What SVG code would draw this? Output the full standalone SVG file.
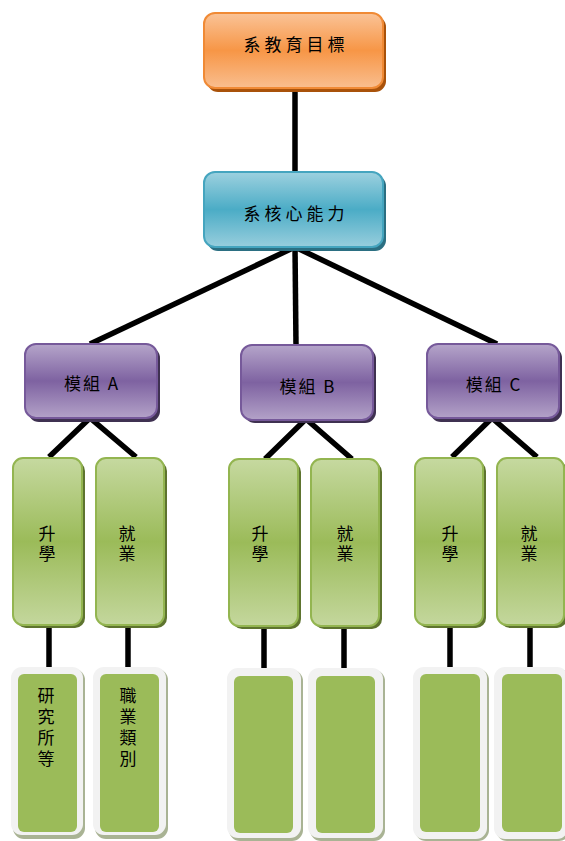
<svg xmlns="http://www.w3.org/2000/svg" width="565" height="841" viewBox="0 0 565 841">
<defs>
<linearGradient id="gO" x1="0" y1="0" x2="0" y2="1"><stop offset="0" stop-color="#FAC397"/><stop offset="0.5" stop-color="#F79646"/><stop offset="1" stop-color="#F9BE8F"/></linearGradient>
<linearGradient id="gB" x1="0" y1="0" x2="0" y2="1"><stop offset="0" stop-color="#9DD1DF"/><stop offset="0.5" stop-color="#4BACC6"/><stop offset="1" stop-color="#98CEDD"/></linearGradient>
<linearGradient id="gP" x1="0" y1="0" x2="0" y2="1"><stop offset="0" stop-color="#B5A5CA"/><stop offset="0.5" stop-color="#7E62A1"/><stop offset="1" stop-color="#B3A2C8"/></linearGradient>
<linearGradient id="gG" x1="0" y1="0" x2="0" y2="1"><stop offset="0" stop-color="#C6D9A0"/><stop offset="0.5" stop-color="#9BBB59"/><stop offset="1" stop-color="#C4D79D"/></linearGradient>
</defs>
<style>
.t{font-family:"Noto Sans CJK TC","Liberation Serif",serif;font-size:17px;fill:#000;text-anchor:middle;dominant-baseline:central}
.h{letter-spacing:4px}
.m{letter-spacing:2px}
.v{writing-mode:vertical-rl;text-orientation:upright;letter-spacing:3px;dominant-baseline:auto}
.c{stroke:#000;stroke-width:5.5;fill:none;stroke-linecap:butt}
.so{fill:#A9520A}
.sb{fill:#2B6F82}
.sp{fill:#3F3151}
.sg{fill:#5E742F}
.sw{fill:#A9B394}
.o{fill:url(#gO);stroke:#F08A35;stroke-width:2}
.b{fill:url(#gB);stroke:#45A5BF;stroke-width:2}
.p{fill:url(#gP);stroke:#76599A;stroke-width:2}
.g{fill:url(#gG);stroke:#93B550;stroke-width:2}
.f{fill:#F2F2F2}
.i{fill:#9BBB59}
</style>
<g id="connectors">
<line class="c" x1="295" y1="88" x2="295" y2="172"/>
<line class="c" x1="295" y1="247" x2="90" y2="344"/>
<line class="c" x1="295" y1="247" x2="296" y2="345"/>
<line class="c" x1="295" y1="247" x2="497" y2="344"/>
<polyline class="c" points="49,457 90,418 136,457"/>
<polyline class="c" points="265,459 306,419 352,459"/>
<polyline class="c" points="452,457 492,418 537,457"/>
<line class="c" x1="49" y1="625" x2="49" y2="672"/>
<line class="c" x1="128" y1="625" x2="128" y2="672"/>
<line class="c" x1="264" y1="626" x2="264" y2="673"/>
<line class="c" x1="344" y1="626" x2="344" y2="673"/>
<line class="c" x1="450" y1="625" x2="450" y2="672"/>
<line class="c" x1="530" y1="625" x2="530" y2="672"/>
</g>
<g id="goal">
<rect class="so" x="207" y="16" width="179" height="76" rx="11"/>
<rect class="o" x="204" y="13" width="179" height="75" rx="11"/>
<text class="t h" x="296" y="43">系教育目標</text>
</g>
<g id="core">
<rect class="sb" x="207" y="175" width="179" height="76" rx="11"/>
<rect class="b" x="204" y="172" width="179" height="75" rx="11"/>
<text class="t h" x="296" y="212">系核心能力</text>
</g>
<g id="modA">
<rect class="sp" x="28" y="347" width="132" height="75" rx="11"/>
<rect class="p" x="25" y="344" width="132" height="74" rx="11"/>
<text class="t m" x="92" y="382">模組 A</text>
</g>
<g id="modB">
<rect class="sp" x="244" y="348" width="132" height="75" rx="11"/>
<rect class="p" x="241" y="345" width="132" height="75" rx="11"/>
<text class="t m" x="308" y="385">模組 B</text>
</g>
<g id="modC">
<rect class="sp" x="430" y="347" width="132" height="75" rx="11"/>
<rect class="p" x="427" y="344" width="132" height="74" rx="11"/>
<text class="t m" x="494" y="383">模組 C</text>
</g>
<g id="A1">
<rect class="sg" x="16" y="461" width="69" height="167" rx="10"/>
<rect class="g" x="13" y="458" width="69" height="167" rx="10"/>
<text class="t v" x="47" y="545">升學</text>
</g>
<g id="A2">
<rect class="sg" x="99" y="461" width="68" height="167" rx="10"/>
<rect class="g" x="96" y="458" width="68" height="167" rx="10"/>
<text class="t v" x="127" y="545">就業</text>
</g>
<g id="B1">
<rect class="sg" x="232" y="462" width="69" height="167" rx="10"/>
<rect class="g" x="229" y="459" width="69" height="167" rx="10"/>
<text class="t v" x="260" y="545">升學</text>
</g>
<g id="B2">
<rect class="sg" x="314" y="462" width="68" height="167" rx="10"/>
<rect class="g" x="311" y="459" width="68" height="167" rx="10"/>
<text class="t v" x="345" y="545">就業</text>
</g>
<g id="C1">
<rect class="sg" x="418" y="461" width="68" height="167" rx="10"/>
<rect class="g" x="415" y="458" width="68" height="167" rx="10"/>
<text class="t v" x="450" y="545">升學</text>
</g>
<g id="C2">
<rect class="sg" x="500" y="461" width="67" height="167" rx="10"/>
<rect class="g" x="497" y="458" width="67" height="167" rx="10"/>
<text class="t v" x="529" y="545">就業</text>
</g>
<g id="A1d">
<rect class="sw" x="13" y="669" width="72" height="170" rx="11"/>
<rect class="f" x="11" y="667" width="72" height="168" rx="11"/>
<rect class="i" x="18" y="674" width="59" height="158" rx="6"/>
<text class="t v" style="letter-spacing:4px" x="46" y="729">研究所等</text>
</g>
<g id="A2d">
<rect class="sw" x="95" y="669" width="73" height="170" rx="11"/>
<rect class="f" x="93" y="667" width="73" height="168" rx="11"/>
<rect class="i" x="100" y="674" width="59" height="158" rx="6"/>
<text class="t v" style="letter-spacing:4px" x="128" y="729">職業類別</text>
</g>
<g id="B1d">
<rect class="sw" x="229" y="670" width="74" height="171" rx="11"/>
<rect class="f" x="227" y="668" width="74" height="170" rx="11"/>
<rect class="i" x="234" y="676" width="59" height="157" rx="6"/>
</g>
<g id="B2d">
<rect class="sw" x="310" y="670" width="75" height="171" rx="11"/>
<rect class="f" x="308" y="668" width="75" height="170" rx="11"/>
<rect class="i" x="316" y="676" width="59" height="157" rx="6"/>
</g>
<g id="C1d">
<rect class="sw" x="415" y="669" width="74" height="172" rx="11"/>
<rect class="f" x="413" y="667" width="74" height="172" rx="11"/>
<rect class="i" x="420" y="674" width="60" height="158" rx="6"/>
</g>
<g id="C2d">
<rect class="sw" x="496" y="669" width="74" height="172" rx="11"/>
<rect class="f" x="494" y="667" width="74" height="172" rx="11"/>
<rect class="i" x="502" y="674" width="60" height="158" rx="6"/>
</g>
</svg>
